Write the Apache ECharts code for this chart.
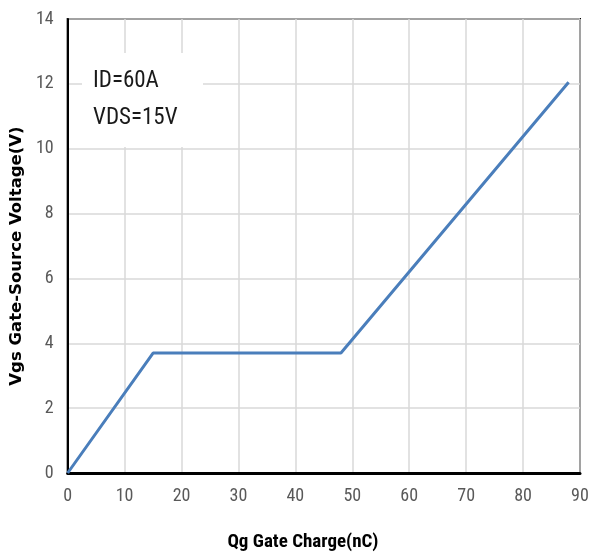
<!DOCTYPE html>
<html>
<head>
<meta charset="utf-8">
<script src="https://cdn.jsdelivr.net/npm/echarts@6/dist/echarts.min.js"></script>
<style>html,body{margin:0;padding:0;background:#fff}#c{width:596px;height:557px}</style>
</head>
<body>
<div id="c"></div>
<script>
var chargeNC = [0, 15, 48, 88];
var vgsV = [0, 3.7, 3.7, 12.05];
var xTicks = [0, 10, 20, 30, 40, 50, 60, 70, 80, 90];
var yTicks = [0, 2, 4, 6, 8, 10, 12, 14];
var xTitle = 'Qg Gate Charge(nC)';
var yTitle = 'Vgs Gate-Source Voltage(V)';
var noteLines = ['ID=60A', 'VDS=15V'];

var narrow = '"Liberation Sans Narrow", "Roboto Condensed", "Arial Narrow", sans-serif';
var chart = echarts.init(document.getElementById('c'));
var pts = chargeNC.map(function (x, i) { return [x, vgsV[i]]; });
chart.setOption({
  animation: false,
  grid: { left: 63, right: 16, top: 19, bottom: 80, show: true, borderColor: '#000', borderWidth: 2, backgroundColor: 'transparent' },
  xAxis: {
    type: 'value', min: xTicks[0], max: xTicks[xTicks.length - 1], interval: 10,
    axisLine: { show: true, lineStyle: { color: '#000', width: 3 } },
    axisTick: { show: false },
    splitLine: { show: true, lineStyle: { color: '#d9d9d9', width: 1.5 } },
    axisLabel: { color: '#595959', fontFamily: narrow, fontSize: 18, margin: 14 },
    name: xTitle, nameLocation: 'middle', nameGap: 60,
    nameTextStyle: { color: '#000', fontFamily: narrow, fontWeight: 'bold', fontSize: 19, padding: [0, 42, 0, 0] }
  },
  yAxis: {
    type: 'value', min: yTicks[0], max: yTicks[yTicks.length - 1], interval: 2,
    axisLine: { show: true, lineStyle: { color: '#000', width: 2 } },
    axisTick: { show: false },
    splitLine: { show: true, lineStyle: { color: '#d9d9d9', width: 1.5 } },
    axisLabel: { color: '#595959', fontFamily: narrow, fontSize: 18, margin: 14 },
    name: yTitle, nameLocation: 'middle', nameGap: 35,
    nameTextStyle: { color: '#000', fontFamily: '"DejaVu Sans", Verdana, sans-serif', fontWeight: 'bold', fontSize: 16.5, padding: [0, 20, 0, 0] }
  },
  graphic: [
    { type: 'rect', shape: { x: 82, y: 53, width: 121, height: 94 }, style: { fill: '#fff' }, z: 1 },
    { type: 'text', x: 93, y: 70, style: { text: noteLines[0], fill: '#1a1a1a', font: '23px ' + narrow }, z: 2 },
    { type: 'text', x: 93, y: 107, style: { text: noteLines[1], fill: '#1a1a1a', font: '23px ' + narrow }, z: 2 }
  ],
  series: [{
    type: 'line', data: pts, symbol: 'none',
    lineStyle: { color: '#4a7ebb', width: 3 }, z: 3
  }]
});
</script>
</body>
</html>
